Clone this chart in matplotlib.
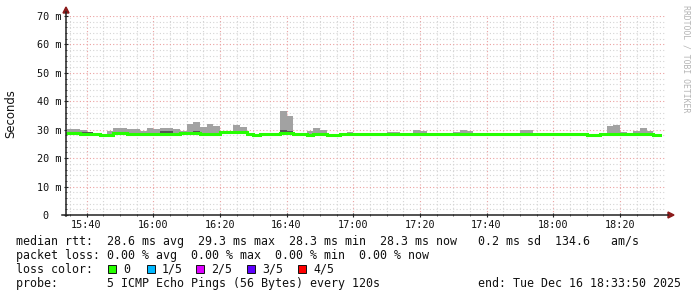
import numpy as np
import matplotlib
matplotlib.use('Agg')
import matplotlib.pyplot as plt
import matplotlib.dates as mdates
from matplotlib.patches import Rectangle, Polygon
from matplotlib.lines import Line2D
from datetime import datetime, timedelta

# ---------------- data ----------------
axis_start = datetime(2025, 12, 16, 15, 33, 50)
axis_end = datetime(2025, 12, 16, 18, 33, 50)
first_step = datetime(2025, 12, 16, 15, 34, 0)
step_minutes = 2

# median rtt per 2-minute step (ms)
median_ms = [
    28.7, 29.0, 28.6, 28.6, 28.6, 28.3, 28.3, 29.0, 29.0, 28.6,
    28.6, 28.6, 28.6, 28.6, 28.6, 28.6, 28.6, 28.9, 28.9, 28.9,
    28.5, 28.5, 28.5, 29.1, 29.1, 29.1, 29.1, 28.5, 28.3, 28.5,
    28.5, 28.5, 29.0, 29.0, 28.6, 28.6, 28.3, 28.5, 28.5, 28.3,
    28.3, 28.5, 28.6, 28.6, 28.4, 28.4, 28.4, 28.4, 28.4, 28.4,
    28.4, 28.4, 28.4, 28.4, 28.4, 28.4, 28.6, 28.4, 28.4, 28.6,
    28.4, 28.4, 28.4, 28.4, 28.4, 28.4, 28.4, 28.4, 28.4, 28.4,
    28.4, 28.4, 28.4, 28.4, 28.4, 28.4, 28.4, 28.4, 28.2, 28.2,
    28.4, 28.4, 28.4, 28.4, 28.4, 28.4, 28.4, 28.4, 28.3,
]

# highest of the 5 pings per step (ms)
max_ms = [
    30.1, 30.1, 30.0, 28.9, 28.8, 28.5, 29.4, 30.6, 30.6, 30.1,
    30.1, 29.4, 30.6, 30.1, 30.6, 30.6, 30.1, 29.4, 32.0, 32.7,
    30.8, 32.0, 31.4, 29.3, 29.3, 31.7, 31.0, 28.7, 28.5, 28.7,
    28.7, 28.7, 36.6, 34.9, 28.8, 28.8, 29.5, 30.6, 29.9, 28.5,
    28.5, 28.7, 29.2, 28.8, 28.6, 28.6, 28.6, 28.6, 29.3, 29.3,
    28.6, 28.6, 29.9, 29.5, 28.6, 28.6, 28.8, 28.6, 29.3, 29.9,
    29.5, 28.6, 28.6, 28.6, 28.6, 28.6, 28.6, 28.6, 29.9, 29.9,
    28.6, 28.6, 28.6, 28.6, 28.6, 28.6, 28.6, 28.6, 28.4, 28.4,
    28.6, 31.3, 31.7, 29.3, 28.6, 29.5, 30.5, 29.5, 28.5,
]

# 4th of the 5 sorted pings per step (inner, darker smoke)
upper_ms = [
    28.8, 29.1, 29.2, 29.2, 28.7, 28.4, 28.4, 29.1, 29.1, 28.7,
    28.7, 28.7, 28.7, 28.7, 29.4, 29.4, 28.7, 29.0, 29.0, 29.4,
    29.0, 29.0, 29.0, 29.2, 29.2, 29.2, 29.2, 28.6, 28.4, 28.6,
    28.6, 28.6, 29.9, 29.7, 28.7, 28.7, 28.4, 28.6, 28.6, 28.4,
    28.4, 28.6, 28.7, 28.7, 28.5, 28.5, 28.5, 28.5, 28.5, 28.5,
    28.5, 28.5, 28.5, 28.5, 28.5, 28.5, 28.7, 28.5, 28.5, 28.7,
    28.5, 28.5, 28.5, 28.5, 28.5, 28.5, 28.5, 28.5, 28.5, 28.5,
    28.5, 28.5, 28.5, 28.5, 28.5, 28.5, 28.5, 28.5, 28.3, 28.3,
    28.5, 28.5, 28.5, 28.5, 28.5, 28.5, 28.5, 28.5, 28.4,
]

# lowest of the 5 pings per step (ms)
min_ms = [m - 0.3 for m in median_ms]

y_ticks = [0, 10, 20, 30, 40, 50, 60, 70]
y_tick_labels = ['0  ', '10 m', '20 m', '30 m', '40 m', '50 m', '60 m', '70 m']

loss_labels = ['0', '1/5', '2/5', '3/5', '4/5']
loss_colors = ['#26ff00', '#00b8ff', '#dd00ff', '#5e00ff', '#ff0000']

rtt_line = ('median rtt:  28.6 ms avg  29.3 ms max  28.3 ms min  '
            '28.3 ms now   0.2 ms sd  134.6   am/s')
loss_line = 'packet loss: 0.00 % avg  0.00 % max  0.00 % min  0.00 % now'
probe_line = 'probe:       5 ICMP Echo Pings (56 Bytes) every 120s'
end_line = 'end: Tue Dec 16 18:33:50 2025'

# ---------------- figure ----------------
W, H = 697, 297
fig = plt.figure(figsize=(W / 100, H / 100), dpi=100, facecolor='white')

def fx(px):
    return px / W

def fy(py):
    return 1 - py / H

ax = fig.add_axes([fx(66), fy(215), fx(600), 199 / H])
ax.set_facecolor('white')

times = [first_step + timedelta(minutes=step_minutes * i) for i in range(len(median_ms))]
xnum = mdates.date2num(times)
width = step_minutes / (24 * 60)

lo = np.array(min_ms)
hi = np.array(max_ms)
up = np.array(upper_ms)
med = np.array(median_ms)

ax.bar(xnum, hi - lo, width=width, bottom=lo, align='edge',
       color='#a2a2a2', linewidth=0, zorder=3)
ax.bar(xnum, up - lo, width=width, bottom=lo, align='edge',
       color='#555555', linewidth=0, zorder=3)

edges = np.append(xnum, xnum[-1] + width)
ax.step(edges, np.append(med, med[-1]), where='post', color=loss_colors[0],
        linewidth=2.2, solid_joinstyle='miter', zorder=4)

ax.set_xlim(mdates.date2num(axis_start), mdates.date2num(axis_end))
ax.set_ylim(0, 70)

ax.xaxis.set_major_locator(mdates.MinuteLocator(byminute=[0, 20, 40]))
ax.xaxis.set_minor_locator(mdates.MinuteLocator(byminute=range(0, 60, 5)))
ax.xaxis.set_major_formatter(mdates.DateFormatter('%H:%M'))
ax.set_yticks(y_ticks)
ax.set_yticklabels(y_tick_labels)
ax.set_yticks(np.arange(0, 71, 2), minor=True)

ax.grid(which='minor', color='#d4d4d4', linestyle=(0, (1, 2)), linewidth=0.8, zorder=1)
ax.grid(which='major', color='#eba0a0', linestyle=(0, (1, 2)), linewidth=0.8, zorder=2)
ax.set_axisbelow(True)

for s in ax.spines.values():
    s.set_visible(False)

ax.tick_params(axis='both', which='major', length=3, width=0.8, color='#222222',
               direction='inout', labelsize=7.3, pad=2)
ax.tick_params(axis='both', which='minor', length=2, width=0.6, color='#444444',
               direction='inout')
for lab in ax.get_xticklabels() + ax.get_yticklabels():
    lab.set_family('DejaVu Sans Mono')
    lab.set_color('#111111')

# axis lines with arrows
fig.add_artist(Line2D([fx(66), fx(66)], [fy(216), fy(12)], color='#222222', lw=1.1))
fig.add_artist(Line2D([fx(62), fx(668)], [fy(215), fy(215)], color='#222222', lw=1.1))
fig.add_artist(Polygon([[fx(63), fy(13)], [fx(69), fy(13)], [fx(66), fy(7)]],
                       closed=True, color='#8b1a1a'))
fig.add_artist(Polygon([[fx(668), fy(212)], [fx(668), fy(218)], [fx(674), fy(215)]],
                       closed=True, color='#8b1a1a'))

fig.text(fx(11), fy(114), 'Seconds', rotation=90, ha='center', va='center',
         fontsize=8.4, family='DejaVu Sans', color='#111111')

fig.text(fx(686), fy(5), 'RRDTOOL / TOBI OETIKER', rotation=270, ha='center', va='top',
         fontsize=5.9, family='DejaVu Sans Mono', color='#b4b4b4')

mono = dict(family='DejaVu Sans Mono', fontsize=8.4, color='#111111', va='baseline')
fig.text(fx(16), fy(245), rtt_line, ha='left', **mono)
fig.text(fx(16), fy(259), loss_line, ha='left', **mono)
fig.text(fx(16), fy(273), 'loss color:', ha='left', **mono)
fig.text(fx(16), fy(287), probe_line, ha='left', **mono)
fig.text(fx(681), fy(287), end_line, ha='right', **mono)

box_x = [108, 147, 196, 247, 298]
for bx, col, lab in zip(box_x, loss_colors, loss_labels):
    fig.add_artist(Rectangle((fx(bx), fy(273)), fx(8), 8.5 / H, facecolor=col,
                             edgecolor='#111111', linewidth=0.7))
    fig.text(fx(bx + 15), fy(273), lab, ha='left', **mono)

fig.savefig('out.png', dpi=100, facecolor='white')
